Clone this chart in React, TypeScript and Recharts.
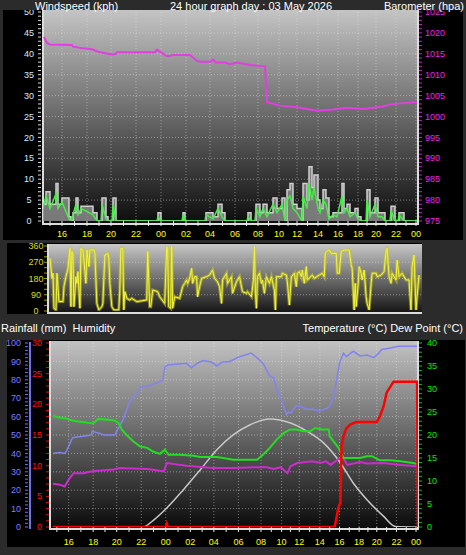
import React from 'react';
import { ComposedChart, Line, Area, XAxis, YAxis, CartesianGrid } from 'recharts';

const FONT = '"Liberation Sans", Arial, sans-serif';

// time slots across the 24h window, 0..375
const HOUR_POS = [19, 44, 68, 93, 118, 143, 167, 192, 215, 236, 254, 275, 295, 315, 333, 353, 373];
const HOUR_LABELS = ['16', '18', '20', '22', '00', '02', '04', '06', '08', '10', '12', '14', '16', '18', '20', '22', '00'];

// windspeed (kph)
const WIND_T = [0, 3, 7, 13, 15, 19, 26, 28, 30, 33, 35, 38, 50, 54, 58, 59, 63, 65, 69, 70, 73, 114, 115, 118, 139, 140, 142, 162, 163, 170, 175, 179, 182, 204, 205, 208, 212, 213, 217, 220, 224, 230, 234, 239, 242, 244, 247, 250, 254, 259, 260, 264, 266, 269, 271, 275, 277, 280, 283, 286, 290, 294, 299, 301, 304, 307, 312, 315, 318, 323, 324, 327, 332, 335, 339, 342, 347, 348, 352, 355, 356, 361, 374];
const WIND_GUST = [4, 7, 4, 9, 4, 5.5, 1, 0, 2, 5.5, 2, 3.5, 2, 0, 0, 5.5, 1, 0, 0, 5.5, 0, 0, 2, 0, 0, 2, 0, 0, 2, 1, 4, 2, 0, 0, 2, 0, 0, 4, 2, 4, 2, 5.5, 3, 5.5, 0, 7.5, 9, 4, 3, 0, 9, 5, 13, 8, 11, 5, 3, 7.5, 5.5, 1, 2, 2, 9, 3, 4, 2, 3, 1, 0, 0, 7.5, 2, 5.5, 2, 2, 0, 0, 3.5, 0, 0, 2, 0, 0];
const WIND_AVG = [3, 6, 3, 6.5, 3, 4.5, 0.5, 0, 1.5, 4, 1.5, 3, 1.5, 0, 0, 4, 0.5, 0, 0, 4, 0, 0, 1, 0, 0, 1.5, 0, 0, 1.5, 0.5, 3, 1, 0, 0, 1, 0, 0, 3, 1, 3, 1, 4, 2, 4, 0, 5, 6, 3, 2, 0, 6, 3, 9, 5, 8, 3, 2, 5, 4, 0.5, 1.5, 1, 6, 2, 3, 1, 2, 0.5, 0, 0, 5, 1, 4, 1, 1, 0, 0, 2.5, 0, 0, 1.5, 0, 0];

// barometer (hpa)
const BARO_T = [1, 4, 7, 29, 30, 40, 49, 55, 67, 72, 74, 112, 114, 122, 125, 130, 147, 154, 157, 167, 170, 173, 182, 187, 194, 207, 222, 224, 237, 254, 274, 290, 304, 320, 340, 347, 360, 374];
const BARO = [1019, 1017.6, 1017.2, 1017.1, 1016.7, 1016.3, 1016.1, 1015.5, 1014.9, 1014.9, 1015.4, 1015.4, 1016.0, 1014.7, 1014.4, 1014.7, 1014.7, 1013.3, 1013.1, 1013.1, 1013.6, 1012.9, 1012.9, 1012.5, 1012.9, 1012.3, 1012.0, 1003.4, 1002.6, 1002.2, 1001.4, 1001.7, 1002.1, 1001.8, 1002.4, 1002.9, 1003.2, 1003.4];

// wind direction (deg)
const DIR_T = [2, 4, 5, 6, 8, 9, 11, 15, 16, 18, 20, 22, 23, 24, 25, 26, 28, 29, 30, 32, 33, 35, 36, 38, 39, 41, 42, 46, 47, 49, 51, 54, 55, 57, 60, 61, 62, 64, 66, 71, 72, 73, 75, 76, 77, 79, 82, 84, 89, 99, 100, 102, 103, 105, 110, 112, 117, 119, 120, 121, 123, 124, 125, 127, 132, 135, 137, 139, 140, 142, 144, 145, 147, 149, 150, 152, 154, 159, 162, 165, 167, 170, 172, 174, 175, 179, 180, 184, 185,
  189, 192, 195, 199, 200, 204, 206, 207, 208, 209, 210, 212, 214, 215, 217, 219, 222, 224, 227, 228, 229, 234, 235, 239, 240, 242, 244, 247, 249, 250, 252, 254, 255, 257, 259, 260, 265, 267, 272, 275, 277, 278, 279, 282, 284, 289, 290, 292, 294, 297, 302, 304, 305, 307, 308, 309, 311, 312, 314, 315, 317, 319, 320, 322, 324, 325, 329, 330, 334, 337, 339, 340, 342, 344, 345, 349, 350, 352, 355, 359, 362, 364, 365, 367, 369, 370, 372];
const DIR = [292, 181, 209, 15, 6, 209, 52, 52, 135, 190, 236, 347, 24, 329, 319, 24, 190, 153, 218, 15, 347, 338, 282, 153, 338, 246, 338, 338, 319, 42, 6, 24, 42, 310, 319, 292, 153, 24, 6, 6, 116, 347, 347, 6, 107, 70, 61, 70, 52, 61, 329, 24, 24, 116, 107, 79, 42, 356, 347, 24, 15, 356, 15, 79, 70, 135, 153, 172, 153, 181, 236, 153, 190, 190, 79, 135, 181, 190, 199, 227, 181, 162, 135, 42, 172, 209, 153, 190, 98,
  162, 190, 107, 98, 107, 79, 172, 356, 98, 15, 190, 209, 153, 172, 98, 190, 153, 190, 116, 6, 190, 190, 209, 199, 162, 33, 190, 209, 135, 209, 218, 190, 227, 153, 246, 172, 199, 181, 199, 209, 190, 319, 329, 338, 319, 319, 209, 209, 329, 338, 338, 255, 236, 6, 153, 24, 153, 246, 209, 172, 227, 79, 42, 6, 153, 209, 209, 190, 199, 218, 338, 347, 190, 153, 209, 172, 282, 190, 209, 172, 172, 6, 246, 310, 6, 79, 199];

// humidity (%)
const HUM_T = [3, 10, 15, 17, 20, 23, 30, 42, 43, 50, 55, 66, 68, 71, 75, 80, 85, 90, 93, 98, 112, 115, 117, 120, 139, 144, 150, 156, 165, 170, 175, 183, 193, 205, 211, 217, 224, 228, 231, 236, 239, 241, 243, 246, 248, 251, 256, 261, 268, 275, 282, 285, 289, 292, 295, 299, 302, 309, 316, 323, 330, 335, 338, 347, 355, 374];
const HUM = [40, 40.5, 40, 41.5, 45, 48.5, 49, 50, 52, 51, 50, 50, 52, 55, 59, 66.5, 71, 73.7, 76.4, 76.4, 79, 80, 87, 88, 89, 86.5, 89, 90.5, 89.5, 87.5, 89.5, 90, 92.5, 94.5, 92, 89, 82, 81, 74.5, 69, 64, 61, 62.5, 62, 64, 66, 65.5, 64, 64, 63, 64.5, 65.5, 71, 80, 89, 94.5, 92.5, 95.5, 93, 93.5, 92, 94.5, 96.5, 97.3, 98.2, 98.2];

// temperature / dew point (°C)
const TEMP_T = [3, 9, 17, 20, 27, 44, 49, 65, 70, 73, 78, 85, 92, 99, 105, 112, 117, 121, 132, 146, 153, 170, 187, 211, 217, 224, 231, 238, 245, 251, 258, 265, 270, 277, 284, 285, 289, 294, 299, 316, 323, 328, 336, 347, 357, 370, 374];
const TEMP = [24.2, 23.8, 23.6, 23.3, 23, 22.5, 23.5, 23.2, 22.6, 21.2, 20, 18.6, 17.5, 17.2, 16.4, 15.9, 16.8, 15.7, 15.7, 15.5, 15.2, 15.2, 14.6, 14.6, 15.7, 17.2, 19, 20.4, 21.2, 21.2, 20.8, 20.8, 21.5, 21.2, 21.2, 19.7, 18.6, 17.2, 15, 15, 15.4, 15.4, 14.5, 14.5, 14.3, 13.9, 13.7];
const DEW_T = [3, 10, 15, 19, 24, 34, 43, 65, 71, 99, 116, 119, 139, 166, 187, 207, 221, 228, 235, 242, 245, 252, 267, 276, 281, 286, 294, 299, 303, 316, 323, 340, 357, 374];
const DEW = [9.4, 9.2, 8.8, 10.3, 11.7, 11.7, 12.1, 12.5, 12.8, 12.6, 12.1, 13.9, 13.3, 12.8, 12.8, 13, 13, 12.6, 13, 11.7, 13.2, 13.9, 14.3, 13.9, 14.3, 13.5, 14.8, 15, 13.5, 14.1, 13.8, 13.9, 13.5, 13.2];

// solar curve (drawn on humidity scale)
const SOLAR_T = [3, 95, 105, 119, 136, 153, 170, 187, 204, 224, 245, 262, 279, 296, 309, 323, 340, 352, 374];
const SOLAR = [0, 0, 3.5, 10.3, 20.3, 31, 42, 50.2, 55.6, 58.7, 56.5, 52, 45.6, 34.8, 23.9, 14.8, 5.8, 0.3, 0];

// rainfall (mm)
const RAIN_T = [3, 118, 119, 120, 290, 292, 294, 296, 297, 299, 302, 306, 312, 333, 336, 340, 343, 347, 350, 374, 375];
const RAIN = [0, 0, 0.5, 0, 0, 1.6, 3.3, 4, 13, 14.8, 16.1, 16.7, 17.1, 17.1, 18, 19.7, 21.9, 22.9, 23.7, 23.7, 0];

const COMPASS = ['N', 'E', 'S', 'W', 'N'];

const pairs = (t: number[], v: number[]) => t.map((x, i) => ({ t: x, v: v[i] }));
const WIND_ROWS = WIND_T.map((t, i) => ({ t, gust: WIND_GUST[i], avg: WIND_AVG[i] }));

const range = (a: number, b: number, s: number) => {
  const out: number[] = [];
  for (let v = a; v <= b + 1e-9; v += s) out.push(v);
  return out;
};

const X_TICKS = HOUR_POS.flatMap((p, i) => (i === 0 ? [p - 12, p] : [(HOUR_POS[i - 1] + p) / 2, p]));
const hourLabel = (v: number) => {
  const i = HOUR_POS.indexOf(v);
  return i < 0 ? '' : HOUR_LABELS[i];
};

type TickCfg = {
  major: number;
  x1: number;
  x2: number;
  tx: number;
  anchor: 'start' | 'middle' | 'end';
  color: string;
  line: string;
  size?: number;
};

const yTick = (c: TickCfg) => (p: any) => {
  const v = Number(p.payload.value);
  const isMajor = Math.abs(v / c.major - Math.round(v / c.major)) < 1e-6;
  return (
    <g>
      <line x1={c.x1} x2={c.x2} y1={p.y} y2={p.y} stroke={c.line} strokeWidth={1} />
      {isMajor && (
        <text x={c.tx} y={p.y} dy="0.35em" textAnchor={c.anchor} fill={c.color} fontSize={c.size ?? 9} fontFamily={FONT}>
          {v}
        </text>
      )}
    </g>
  );
};

const compassTick = (p: any) => {
  const i = [0, 90, 180, 270, 360].indexOf(Number(p.payload.value));
  return (
    <text x={439} y={p.y} dy="0.35em" textAnchor="middle" fill="#ffffff" fontSize={12} fontFamily={FONT}>
      {COMPASS[i]}
    </text>
  );
};

const box = (left: number, top: number, width: number, height: number, background: string) => (
  <div style={{ position: 'absolute', left, top, width, height, background }} />
);

const GRID = { stroke: '#e6e6e6', strokeOpacity: 0.45, strokeDasharray: '1 2' };
const xTick = { fill: '#ffff00', fontSize: 9, fontFamily: FONT };

const label = (text: string, style: React.CSSProperties) => (
  <div style={{ position: 'absolute', color: '#fff', fontFamily: FONT, fontSize: 11, lineHeight: '12px', whiteSpace: 'pre', ...style }}>
    {text}
  </div>
);

export default function App() {
  return (
    <div style={{ position: 'absolute', left: 0, top: 0, width: 466, height: 555, background: '#2b2b2b', overflow: 'hidden' }}>
      {/* top panel frame */}
      {box(3, 10, 460, 230, '#000')}
      {box(43, 10, 375, 214, 'linear-gradient(to bottom, #c4c4c4, #0c0c0c)')}
      {box(42, 10, 2, 215, '#dcdcdc')}
      {box(42, 223, 377, 2, '#dcdcdc')}
      {box(417, 10, 2, 215, '#dcdcdc')}

      {/* direction panel frame */}
      {box(7, 243, 415, 71, '#000')}
      {box(48, 244, 374, 69, 'linear-gradient(to bottom, #c8c8c8, #141414)')}
      {box(47, 244, 2, 70, '#dcdcdc')}
      {box(47, 312, 375, 2, '#dcdcdc')}

      {/* bottom panel frame */}
      {box(7, 340, 458, 207, '#000')}
      {box(50, 341, 368, 188, 'linear-gradient(to bottom, #c2c2c2, #0a0a0a)')}
      {box(49, 341, 2, 189, '#dcdcdc')}
      {box(49, 528, 370, 2, '#dcdcdc')}
      {box(417, 341, 2, 189, '#dcdcdc')}
      {box(29, 342, 2, 187, '#7070f0')}

      <div style={{ position: 'absolute', left: 0, top: 0 }}>
        <ComposedChart width={466} height={245} margin={{ top: 12, right: 0, bottom: 0, left: 0 }}>
          <CartesianGrid yAxisId="wind" horizontalValues={range(5, 45, 5)} verticalValues={HOUR_POS} {...GRID} />
          <XAxis type="number" dataKey="t" domain={[0, 375]} ticks={X_TICKS} interval={0} tickFormatter={hourLabel} allowDataOverflow
            axisLine={false} tickLine={{ stroke: '#e8e8e8' }} tickSize={5} tickMargin={5} height={24} tick={xTick} />
          <YAxis yAxisId="wind" orientation="left" width={43} domain={[0, 50]} ticks={range(0, 50, 1)} interval={0} allowDataOverflow
            tickLine={false} axisLine={false}
            tick={yTick({ major: 5, x1: 38, x2: 41, tx: 29, anchor: 'middle', color: '#d4ecff', line: '#d8d8d8' })} />
          <YAxis yAxisId="baro" orientation="right" width={48} domain={[975, 1025]} ticks={range(975, 1025, 1)} interval={0} allowDataOverflow
            tickLine={false} axisLine={false}
            tick={yTick({ major: 5, x1: 419, x2: 422, tx: 425, anchor: 'start', color: '#ee22ee', line: '#cc22cc' })} />
          <Area yAxisId="wind" data={WIND_ROWS} dataKey="gust" type="stepAfter" stroke="#cfcfcf" strokeWidth={1.5}
            fill="#8c8c8c" fillOpacity={0.85} dot={false} activeDot={false} isAnimationActive={false} />
          <Line yAxisId="wind" data={WIND_ROWS} dataKey="avg" type="linear" stroke="#44ee44" strokeWidth={1.5}
            dot={false} activeDot={false} isAnimationActive={false} />
          <Line yAxisId="baro" data={pairs(BARO_T, BARO)} dataKey="v" type="linear" stroke="#e23ee2" strokeWidth={2}
            dot={false} activeDot={false} isAnimationActive={false} />
        </ComposedChart>
      </div>

      <div style={{ position: 'absolute', left: 0, top: 240 }}>
        <ComposedChart width={466} height={76} margin={{ top: 6, right: 0, bottom: 5, left: 0 }}>
          <CartesianGrid yAxisId="dir" horizontalValues={[90, 180, 270]} vertical={false} {...GRID} />
          <XAxis type="number" dataKey="t" domain={[0, 375]} allowDataOverflow hide />
          <YAxis yAxisId="dir" orientation="left" width={48} domain={[0, 360]} ticks={range(0, 360, 30)} interval={0} allowDataOverflow
            tickLine={false} axisLine={false}
            tick={yTick({ major: 90, x1: 44, x2: 47, tx: 36, anchor: 'middle', color: '#dede10', line: '#a0a000' })} />
          <YAxis yAxisId="compass" orientation="right" width={44} domain={[0, 360]} ticks={[0, 90, 180, 270, 360]} interval={0}
            tickLine={false} axisLine={false} tick={compassTick} />
          <Line yAxisId="dir" data={pairs(DIR_T, DIR)} dataKey="v" type="linear" stroke="#caca1e" strokeOpacity={0.6} strokeWidth={3}
            dot={false} activeDot={false} isAnimationActive={false} />
          <Line yAxisId="dir" data={pairs(DIR_T, DIR)} dataKey="v" type="linear" stroke="#f4f43c" strokeWidth={1}
            dot={false} activeDot={false} isAnimationActive={false} />
        </ComposedChart>
      </div>

      <div style={{ position: 'absolute', left: 0, top: 335 }}>
        <ComposedChart width={466} height={220} margin={{ top: 8, right: 0, bottom: 0, left: 0 }}>
          <CartesianGrid yAxisId="hum" horizontalValues={range(10, 90, 10)} verticalValues={HOUR_POS} {...GRID} />
          <XAxis type="number" dataKey="t" domain={[0, 375]} ticks={X_TICKS} interval={0} tickFormatter={hourLabel} allowDataOverflow
            axisLine={false} tickLine={{ stroke: '#e8e8e8' }} tickSize={5} tickMargin={7} height={28} tick={xTick} />
          <YAxis yAxisId="hum" orientation="left" width={31} domain={[0, 100]} ticks={range(0, 100, 2)} interval={0} allowDataOverflow
            tickLine={false} axisLine={false}
            tick={yTick({ major: 10, x1: 25, x2: 28, tx: 21, anchor: 'end', color: '#7f7fff', line: '#7070f0' })} />
          <YAxis yAxisId="rain" orientation="left" width={19} domain={[0, 30]} ticks={range(0, 30, 1)} interval={0} allowDataOverflow
            tickLine={false} axisLine={false}
            tick={yTick({ major: 5, x1: 46, x2: 49, tx: 42, anchor: 'end', color: '#ff1010', line: '#e01010' })} />
          <YAxis yAxisId="temp" orientation="right" width={48} domain={[0, 40]} ticks={range(0, 40, 1)} interval={0} allowDataOverflow
            tickLine={false} axisLine={false}
            tick={yTick({ major: 5, x1: 419, x2: 422, tx: 427, anchor: 'start', color: '#00ee00', line: '#10c010' })} />
          <Line yAxisId="hum" data={pairs(SOLAR_T, SOLAR)} dataKey="v" type="monotone" stroke="#c8c8c8" strokeWidth={1.5}
            dot={false} activeDot={false} isAnimationActive={false} />
          <Line yAxisId="hum" data={pairs(HUM_T, HUM)} dataKey="v" type="linear" stroke="#8282f2" strokeWidth={1.5}
            dot={false} activeDot={false} isAnimationActive={false} />
          <Line yAxisId="temp" data={pairs(DEW_T, DEW)} dataKey="v" type="linear" stroke="#cc2ccc" strokeWidth={2}
            dot={false} activeDot={false} isAnimationActive={false} />
          <Line yAxisId="temp" data={pairs(TEMP_T, TEMP)} dataKey="v" type="linear" stroke="#22dd22" strokeWidth={2}
            dot={false} activeDot={false} isAnimationActive={false} />
          <Line yAxisId="rain" data={pairs(RAIN_T, RAIN)} dataKey="v" type="linear" stroke="#ff0000" strokeWidth={2.5}
            dot={false} activeDot={false} isAnimationActive={false} />
        </ComposedChart>
      </div>

      {/* title strip clips the top axis labels like the original */}
      {box(0, 0, 466, 10, '#2b2b2b')}
      {label('Windspeed (kph)', { left: 35, top: 0 })}
      {label('24 hour graph day : 03 May 2026', { left: 170, top: 0 })}
      {label('Barometer (hpa)', { right: 2, top: 0 })}
      {label('Rainfall (mm)  Humidity', { left: 1, top: 322 })}
      {label('Temperature (°C) Dew Point (°C)', { right: 3, top: 322 })}
    </div>
  );
}
